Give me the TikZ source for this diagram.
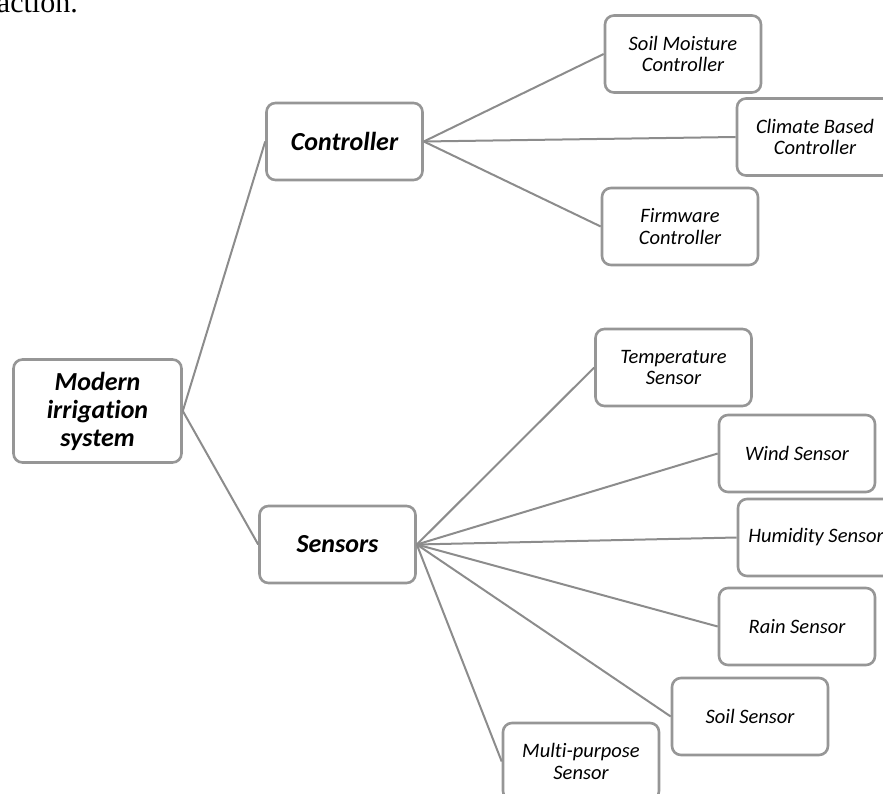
\documentclass[tikz,border=0pt]{standalone}
\usepackage{fontspec}
\setmainfont{Carlito}[Ligatures=NoCommon]
\newfontfamily\bodyserif{Liberation Serif}
\definecolor{boxgray}{RGB}{150,150,150}
\definecolor{linkgray}{RGB}{140,140,140}

\begin{document}
\begin{tikzpicture}[x=1pt,y=-1pt,
    root/.style ={rectangle, rounded corners=9pt, draw=boxgray, line width=2.6pt, fill=white, align=center,
      inner sep=0pt, minimum width=168pt, minimum height=103pt, font=\fontsize{26}{28}\selectfont\bfseries\itshape},
    branch/.style ={rectangle, rounded corners=9pt, draw=boxgray, line width=2.6pt, fill=white, align=center,
      inner sep=0pt, minimum width=156pt, minimum height=77pt, font=\fontsize{26}{28}\selectfont\bfseries\itshape},
    leaf/.style ={rectangle, rounded corners=9pt, draw=boxgray, line width=2.6pt, fill=white, align=center,
      inner sep=0pt, minimum width=156pt, minimum height=77pt, font=\fontsize{20.5}{21.7}\selectfont\itshape},
    link/.style ={draw=linkgray, line width=2pt}]
   \useasboundingbox (0,0) rectangle (883,794);
   \clip (0,0) rectangle (883,794);
   \node[anchor=base east, inner sep=0pt, font=\bodyserif\fontsize{30}{34}\selectfont] (caption) at (78,13) {action.};
   \node[root] (modern) at (97.5,411) {Modern\\irrigation\\system};
   \node[branch] (controller) at (344.5,141.5) {Controller};
   \node[branch] (sensors) at (337.5,544.5) {Sensors};
   \node[leaf] (soilmoisture) at (683,54) {Soil Moisture\\Controller};
   \node[leaf] (climate) at (815,137) {Climate Based\\Controller};
   \node[leaf] (firmware) at (680,226.5) {Firmware\\Controller};
   \node[leaf] (temperature) at (673.5,367.5) {Temperature\\Sensor};
   \node[leaf] (wind) at (797,453.5) {Wind Sensor};
   \node[leaf] (humidity) at (816,537.5) {Humidity Sensor};
   \node[leaf] (rain) at (797,626.5) {Rain Sensor};
   \node[leaf] (soil) at (750,716.5) {Soil Sensor};
   \node[leaf] (multi) at (581,761.5) {Multi-purpose\\Sensor};
   \draw[link] (modern.east) to (controller.west);
   \draw[link] (modern.east) to (sensors.west);
   \draw[link] (controller.east) to (soilmoisture.west);
   \draw[link] (controller.east) to (climate.west);
   \draw[link] (controller.east) to (firmware.west);
   \draw[link] (sensors.east) to (temperature.west);
   \draw[link] (sensors.east) to (wind.west);
   \draw[link] (sensors.east) to (humidity.west);
   \draw[link] (sensors.east) to (rain.west);
   \draw[link] (sensors.east) to (soil.west);
   \draw[link] (sensors.east) to (multi.west);
\end{tikzpicture}
\end{document}
